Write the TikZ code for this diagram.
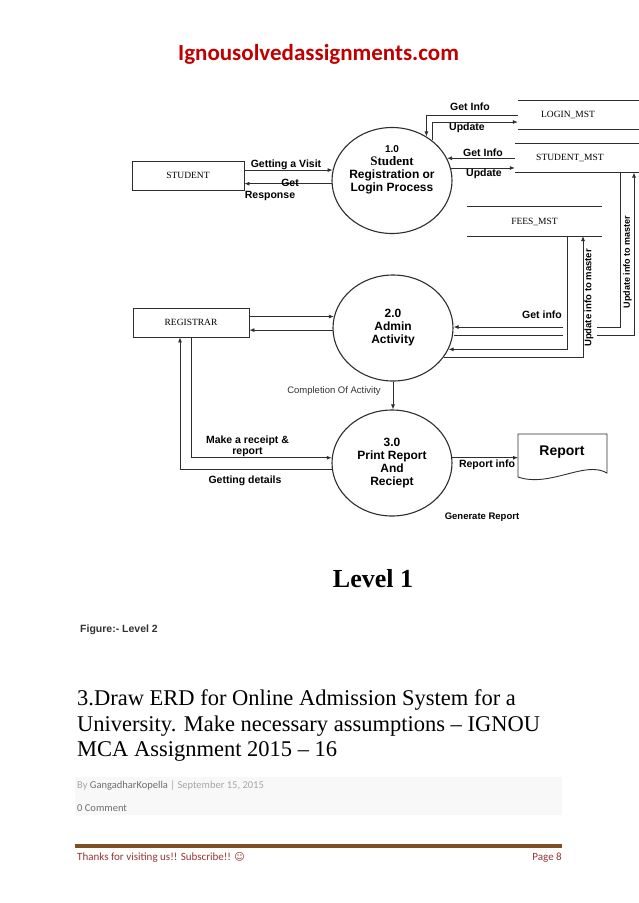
\documentclass[tikz,border=0pt]{standalone}
\usepackage{fontspec}
\setmainfont{Liberation Serif}
\setsansfont{Liberation Sans}
\newfontfamily\carlito{Carlito}
\newfontfamily\smiley{DejaVu Sans}
\usetikzlibrary{shapes.geometric,arrows.meta}

\definecolor{TTL}{HTML}{C00000}
\definecolor{LINE}{HTML}{2E2E2E}
\definecolor{CAP}{HTML}{333333}
\definecolor{BOX}{HTML}{F8F8F8}
\definecolor{META}{HTML}{A6A6A6}
\definecolor{NAME}{HTML}{6E6E6E}
\definecolor{RULE}{HTML}{7F4F24}
\definecolor{FOOT}{HTML}{943634}

\tikzset{
  proc/.style={draw=LINE, ellipse, line width=1.1pt, minimum width=120, minimum height=106,
    inner sep=0pt, align=center, font=\sffamily\bfseries\fontsize{12}{13}\selectfont},
  ext/.style={draw=LINE, rectangle, line width=0.8pt, minimum height=29, inner sep=0pt,
    font=\fontsize{9.5}{11}\selectfont},
  store/.style={inner sep=0pt, minimum height=29, font=\fontsize{9.5}{11}\selectfont},
  lbl/.style={inner sep=0pt, anchor=base, font=\sffamily\bfseries\fontsize{10.5}{11}\selectfont},
  flow/.style={draw=LINE, line width=0.8pt, -{Latex[length=5pt,width=4pt]}},
}

\begin{document}
\begin{tikzpicture}[x=1pt,y=-1pt]
            \fill[white] (0,0) rectangle (638,903);
            \useasboundingbox (0,0) rectangle (638,903);

            % header
            \node[anchor=base, inner sep=0pt, text=TTL, font=\carlito\bfseries\fontsize{23}{28}\selectfont] (site) at (318.5,60) {Ignousolvedassignments.com};

            % external entities
            \node[ext, minimum width=112] (student) at (188,175.5) {STUDENT};
            \node[ext, minimum width=116] (registrar) at (191,322.5) {REGISTRAR};

            % processes
            \node[proc] (p1) at (392,180.5) {};
            \node[align=center, inner sep=0pt, font=\sffamily\bfseries\fontsize{12}{13}\selectfont] (p1txt) at (392,169.5) {{\fontsize{10}{13}\selectfont 1.0}\\{\rmfamily\fontsize{13}{13}\selectfont Student}\\Registration or\\Login Process};
            \node[proc] (p2) at (393,328) {2.0\\Admin\\Activity};
            \node[proc] (p3) at (392,463) {3.0\\Print Report\\And\\Reciept};

            % data stores
            \node[store, minimum width=100] (login) at (568,115) {LOGIN\_MST};
            \node[store, minimum width=110] (smst) at (570,158) {STUDENT\_MST};
            \node[store, minimum width=135] (fees) at (534.5,221.5) {FEES\_MST};
            \foreach \s in {login,smst} {
                \draw[LINE, line width=0.8pt] (\s.north west) -- ([xshift=22pt]\s.north east);
                \draw[LINE, line width=0.8pt] (\s.south west) -- ([xshift=22pt]\s.south east);
            }
            \draw[LINE, line width=0.8pt] (fees.north west) -- (fees.north east) (fees.south west) -- (fees.south east);

            % report document
            \draw[LINE, line width=0.9pt] (518,477) -- (518,434) -- (607,434) -- (607,473) .. controls (585,460) and (550,488) .. (518,477);
            \node[anchor=base, inner sep=0pt, font=\sffamily\bfseries\fontsize{14}{16}\selectfont] (report) at (562,455) {Report};
            \coordinate (repin) at (518,458);

            % flows of 1.0
            \draw[flow] (student.east |- p1.170) -- (p1.170);
            \draw[flow] (p1.183) -- (student.east |- p1.183);
            \draw[flow] (login.west) -| (p1.52);
            \draw[flow] (p1.45) |- ([yshift=-7pt]login.west);
            \draw[flow] (p1.22 -| smst.west) -- (p1.22);
            \draw[flow] (p1.12) -- (p1.12 -| smst.west);

            \node[lbl] (visit) at (286,167) {Getting a Visit};
            \node[lbl] (resp) at (290,186.7) {Get};
            \node[lbl] (resp2) at (270,198) {Response};
            \node[lbl] (getinfo1) at (470,110) {Get Info};
            \node[lbl] (update1) at (467,130) {Update};
            \node[lbl] (getinfo2) at (483,156.5) {Get Info};
            \node[lbl] (update2) at (484,176) {Update};

            % flows of 2.0
            \draw[flow] (registrar.east |- p2.169) -- (p2.169);
            \draw[flow] (p2.182) -- (registrar.east |- p2.182);
            \draw[flow] (p2.south) -- (p2.south |- p3.north);
            \node[anchor=base, inner sep=0pt, text=CAP, font=\sffamily\fontsize{9.5}{11}\selectfont] (done) at (334,393) {Completion Of Activity};

            \coordinate (feesget) at (567,236);
            \coordinate (feesupd) at (583,236);
            \coordinate (smstget) at (620,172.5);
            \coordinate (smstupd) at (634,172.5);
            \coordinate (gapr1) at (597,327);
            \coordinate (gapl1) at (563,327);
            \coordinate (gapr2) at (597,335);
            \coordinate (gapl2) at (563,335);

            \draw[flow] (feesget) |- (p2.-21);
            \draw[flow] (p2.-30) -| (feesupd);
            \draw[LINE, line width=0.8pt] (smstget) |- (gapr1);
            \draw[flow] (gapl1) -- (gapl1 -| p2.east);
            \draw[LINE, line width=0.8pt] (gapl2 -| p2.east) -- (gapl2);
            \draw[flow] (gapr2) -| (smstupd);

            \node[lbl] (getinfo3) at (542,318) {Get info};
            \node[lbl, anchor=center, rotate=90, font=\sffamily\bfseries\fontsize{9.5}{11}\selectfont] (master1) at (589,298) {Update info to master};
            \node[lbl, anchor=center, rotate=90, font=\sffamily\bfseries\fontsize{9}{11}\selectfont] (master2) at (627.5,262) {Update info to master};

            % flows of 3.0
            \draw[flow] (registrar.south) |- (p3.175);
            \draw[flow] (p3.186) -| ([xshift=-11pt]registrar.south);
            \draw[flow] (p3.5) -- (p3.5 -| repin);

            \node[lbl, anchor=center, align=center] (receipt) at (247.5,445.8) {Make a receipt \&\\report};
            \node[lbl] (details) at (245,483) {Getting details};
            \node[lbl] (repinfo) at (487,467) {Report info};
            \node[lbl, font=\sffamily\bfseries\fontsize{9.5}{11}\selectfont] (genrep) at (482,519) {Generate Report};

            % captions
            \node[anchor=base, inner sep=0pt, font=\bfseries\fontsize{26}{30}\selectfont] (level) at (373,587) {Level 1};
            \node[anchor=base west, inner sep=0pt, text=CAP, font=\sffamily\bfseries\fontsize{10.5}{12}\selectfont] (figure) at (80,632) {Figure:- Level 2};

            % article heading
            \node[anchor=north west, inner sep=0pt, align=left, font=\fontsize{22.5}{25.5}\selectfont] (heading) at (77,689.5) {3.Draw ERD for Online Admission System for a\\University. Make necessary assumptions – IGNOU\\MCA Assignment 2015 – 16};

            \fill[BOX] (75,777) rectangle (562,815);
            \node[anchor=base west, inner sep=0pt, text=META, font=\carlito\fontsize{10.5}{12}\selectfont] (byline) at (77,788) {By {\color{NAME}GangadharKopella} | September 15, 2015};
            \node[anchor=base west, inner sep=0pt, text=NAME, font=\carlito\fontsize{10.5}{12}\selectfont] (comment) at (77,811) {0 Comment};

            % footer
            \draw[RULE, line width=3.5pt] (75,846) -- (562,846);
            \node[anchor=base west, inner sep=0pt, text=FOOT, font=\carlito\fontsize{11}{13}\selectfont] (thanks) at (77,860) {Thanks for visiting us!! Subscribe!! {\smiley\fontsize{10}{12}\selectfont ☺}};
            \node[anchor=base east, inner sep=0pt, text=FOOT, font=\carlito\fontsize{11}{13}\selectfont] (page) at (562,860) {Page 8};
        \end{tikzpicture}
\end{document}
